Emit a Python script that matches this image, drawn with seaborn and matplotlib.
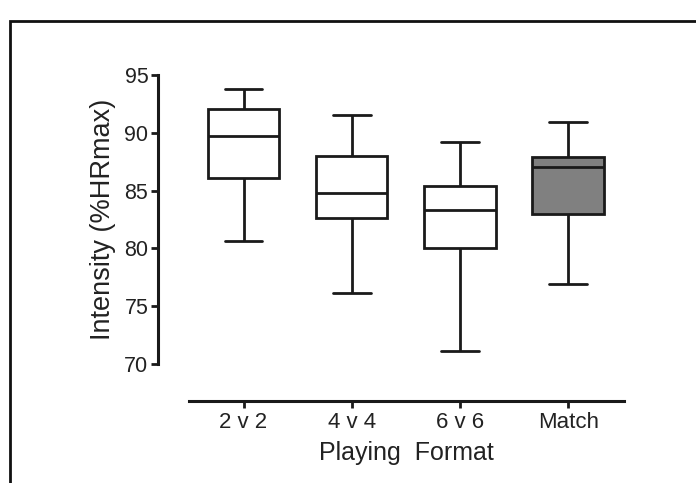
import numpy as np
import pandas as pd
import matplotlib
matplotlib.use("Agg")
import matplotlib.pyplot as plt
import seaborn as sns
from matplotlib.patches import Rectangle

# Data (five-number summaries)
formats = ["2 v 2", "4 v 4", "6 v 6", "Match"]
whisker_low = [80.6, 76.1, 71.1, 76.9]
q1 = [86.1, 82.6, 80.0, 83.0]
median = [89.7, 84.8, 83.3, 87.0]
q3 = [92.1, 88.0, 85.4, 87.9]
whisker_high = [93.8, 91.5, 89.2, 90.9]
box_colors = ["white", "white", "white", "#808080"]

rows = []
for i, f in enumerate(formats):
    for v in (whisker_low[i], q1[i], median[i], q3[i], whisker_high[i]):
        rows.append({"Playing Format": f, "Intensity": v})
df = pd.DataFrame(rows)

sns.set_style("ticks")
plt.rcParams["font.family"] = ["Liberation Sans", "DejaVu Sans"]

W, H = 696, 483
fig = plt.figure(figsize=(W / 100, H / 100), dpi=100)
left, right = 189 / W, 624.4 / W
bottom, top = (H - 364) / H, (H - 75) / H
ax = fig.add_axes([left, bottom, right - left, top - bottom])

line_c = "#1a1a1a"
sns.boxplot(data=df, x="Playing Format", y="Intensity", hue="Playing Format",
            order=formats, hue_order=formats, palette=box_colors, saturation=1,
            legend=False, width=0.66, whis=np.inf, linecolor=line_c,
            linewidth=2.0, capwidths=0.35, ax=ax)

ax.set_ylim(70, 95)
ax.set_xlim(-0.504, 3.52)
ax.set_yticks([70, 75, 80, 85, 90, 95])

for s in ["top", "right"]:
    ax.spines[s].set_visible(False)
ax.spines["left"].set_position(("outward", 22.3))
ax.spines["bottom"].set_position(("outward", 26.6))
for s in ["left", "bottom"]:
    ax.spines[s].set_linewidth(2.2)
    ax.spines[s].set_color(line_c)

ax.tick_params(axis="both", length=5, width=2, color=line_c, colors="#222222")
ax.tick_params(axis="y", labelsize=15.5, pad=2)
ax.tick_params(axis="x", labelsize=16, pad=3)
ax.set_xlabel("Playing  Format", fontsize=18, color="#222222", labelpad=6)
ax.set_ylabel("Intensity (%HRmax)", fontsize=19.5, color="#222222", labelpad=6)

# outer frame of the picture
fig.patches.append(Rectangle((10 / W, -0.2), 2.0, (H - 21) / H + 0.2,
                             transform=fig.transFigure, fill=False,
                             edgecolor="#111111", linewidth=2.0))

fig.savefig("out.png", dpi=100, facecolor="white")
